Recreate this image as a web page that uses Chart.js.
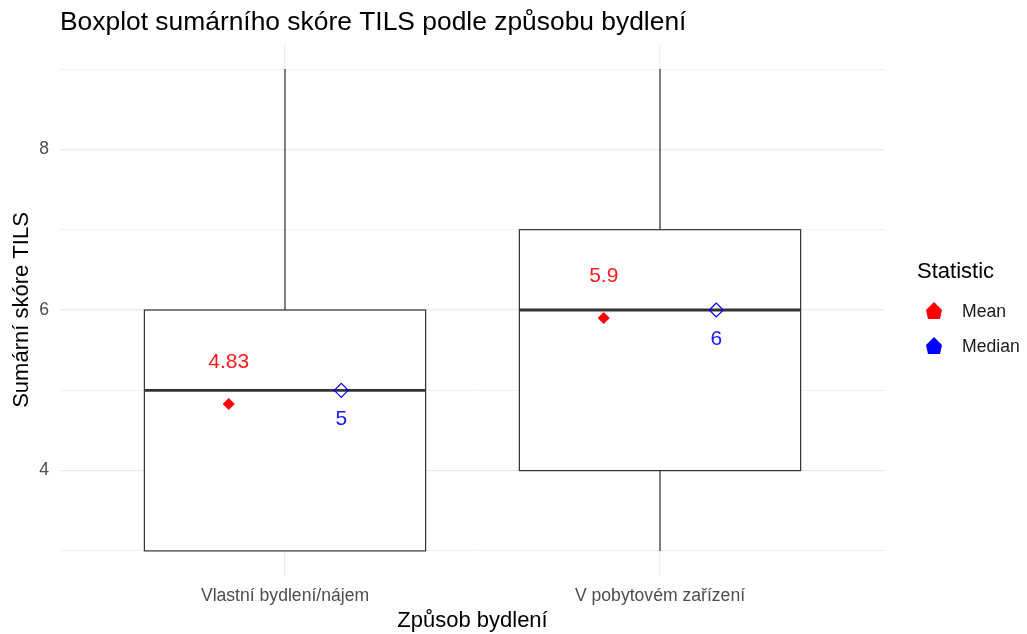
<!DOCTYPE html>
<html>
<head>
<meta charset="utf-8">
<script src="https://cdn.jsdelivr.net/npm/chart.js@4"></script>
<style>
  html, body { margin: 0; padding: 0; background: #fff; }
  #wrap { width: 1027px; height: 634px; }
</style>
</head>
<body>
<div id="wrap"><canvas id="myChart" width="1027" height="634"></canvas></div>
<script>
// boxplot data
const categories = ['Vlastní bydlení/nájem', 'V pobytovém zařízení'];
const whiskerLow = [3, 3];
const boxLow = [3, 4];
const medians = [5, 6];
const boxHigh = [6, 7];
const whiskerHigh = [9, 9];
const means = [4.83, 5.9];
const meanLabels = ['4.83', '5.9'];
const medianLabels = ['5', '6'];
const yTicks = [3, 4, 5, 6, 7, 8, 9];

const FONT = '"Liberation Sans", Arial, sans-serif';
const dodge = 0.15;
const boxWidth = 0.75;

// draws boxes, whiskers and medians using chart scales
const boxplotPlugin = {
    id: 'boxplot',
    beforeDatasetsDraw(chart) {
        const ctx = chart.ctx;
        const x = chart.scales.x, y = chart.scales.y;
        ctx.save();
        categories.forEach((c, i) => {
            const cx = x.getPixelForValue(i + 1);
            const l = x.getPixelForValue(i + 1 - boxWidth / 2);
            const r = x.getPixelForValue(i + 1 + boxWidth / 2);
            const top = y.getPixelForValue(boxHigh[i]);
            const bot = y.getPixelForValue(boxLow[i]);
            ctx.strokeStyle = '#333333';
            ctx.lineWidth = 1.2;
            // whiskers
            ctx.beginPath();
            ctx.moveTo(cx, y.getPixelForValue(whiskerHigh[i]));
            ctx.lineTo(cx, top);
            ctx.moveTo(cx, bot);
            ctx.lineTo(cx, y.getPixelForValue(whiskerLow[i]));
            ctx.stroke();
            // box
            ctx.fillStyle = '#ffffff';
            ctx.fillRect(l, top, r - l, bot - top);
            ctx.strokeRect(l, top, r - l, bot - top);
            // median
            ctx.lineWidth = 2.8;
            ctx.beginPath();
            const my = y.getPixelForValue(medians[i]);
            ctx.moveTo(l, my);
            ctx.lineTo(r, my);
            ctx.stroke();
        });
        ctx.restore();
    },
    afterDatasetsDraw(chart) {
        const ctx = chart.ctx;
        const x = chart.scales.x, y = chart.scales.y;
        ctx.save();
        ctx.textAlign = 'center';
        ctx.textBaseline = 'middle';
        ctx.font = '21px ' + FONT;
        categories.forEach((c, i) => {
            ctx.fillStyle = '#ff1a1a';
            ctx.fillText(meanLabels[i], x.getPixelForValue(i + 1 - dodge), y.getPixelForValue(means[i]) - 42);
            ctx.fillStyle = '#1a1aff';
            ctx.fillText(medianLabels[i], x.getPixelForValue(i + 1 + dodge), y.getPixelForValue(medians[i]) + 29);
        });
        ctx.restore();
    },
    afterDraw(chart) {
        const ctx = chart.ctx;
        ctx.save();
        // title
        ctx.fillStyle = '#000000';
        ctx.textAlign = 'left';
        ctx.textBaseline = 'middle';
        ctx.font = '26.4px ' + FONT;
        ctx.fillText('Boxplot sumárního skóre TILS podle způsobu bydlení', 60, 23);
        // legend
        ctx.font = '22px ' + FONT;
        ctx.fillText('Statistic', 917, 272);
        const keys = [['Mean', '#ff0000', 311], ['Median', '#0000ff', 346]];
        ctx.font = '17.6px ' + FONT;
        keys.forEach(k => {
            const cy = k[2];
            ctx.fillStyle = k[1];
            ctx.beginPath();
            ctx.moveTo(934, cy - 9);
            ctx.lineTo(942, cy - 1);
            ctx.lineTo(940, cy + 8);
            ctx.lineTo(928, cy + 8);
            ctx.lineTo(926, cy - 1);
            ctx.closePath();
            ctx.fill();
            ctx.fillStyle = '#1a1a1a';
            ctx.fillText(k[0], 962, cy + 1);
        });
        ctx.restore();
    }
};

const ctx = document.getElementById('myChart').getContext('2d');
new Chart(ctx, {
    type: 'scatter',
    data: {
        datasets: [{
            label: 'Mean',
            data: means.map((m, i) => ({ x: i + 1 - dodge, y: m })),
            pointStyle: 'rectRot',
            pointRadius: 5.5,
            backgroundColor: '#ff0000',
            borderColor: '#ff0000',
            borderWidth: 1
        }, {
            label: 'Median',
            data: medians.map((m, i) => ({ x: i + 1 + dodge, y: m })),
            pointStyle: 'rectRot',
            pointRadius: 7,
            backgroundColor: 'rgba(0,0,0,0)',
            borderColor: '#0000ff',
            borderWidth: 1.2
        }]
    },
    options: {
        responsive: false,
        animation: false,
        layout: { padding: { top: 45, right: 142, left: 0, bottom: 0 } },
        plugins: {
            legend: { display: false },
            tooltip: { enabled: false }
        },
        scales: {
            x: {
                type: 'linear',
                min: 0.4,
                max: 2.6,
                afterBuildTicks: scale => { scale.ticks = categories.map((c, i) => ({ value: i + 1 })); },
                afterFit: scale => { scale.height = 59; },
                ticks: {
                    callback: v => categories[v - 1] || '',
                    color: '#4d4d4d',
                    font: { family: FONT, size: 17.6 },
                    padding: 11,
                    maxRotation: 0
                },
                grid: { color: '#ebebeb', lineWidth: 1.2, drawTicks: false },
                border: { display: false },
                title: {
                    display: true,
                    text: 'Způsob bydlení',
                    color: '#000000',
                    font: { family: FONT, size: 22 },
                    padding: { top: 0, bottom: 0 }
                }
            },
            y: {
                min: 2.7,
                max: 9.3,
                afterBuildTicks: scale => { scale.ticks = yTicks.map(v => ({ value: v })); },
                afterFit: scale => { scale.width = 60; },
                ticks: {
                    callback: v => (v % 2 === 0 ? String(v) : ''),
                    color: '#4d4d4d',
                    font: { family: FONT, size: 17.6 },
                    padding: 11
                },
                grid: {
                    color: '#ebebeb',
                    lineWidth: c => (c.tick && c.tick.value % 2 === 0 ? 1.2 : 0.7),
                    drawTicks: false
                },
                border: { display: false },
                title: {
                    display: true,
                    text: 'Sumární skóre TILS',
                    color: '#000000',
                    font: { family: FONT, size: 22 },
                    padding: { top: 9, bottom: 0 }
                }
            }
        }
    },
    plugins: [boxplotPlugin]
});
</script>
</body>
</html>
